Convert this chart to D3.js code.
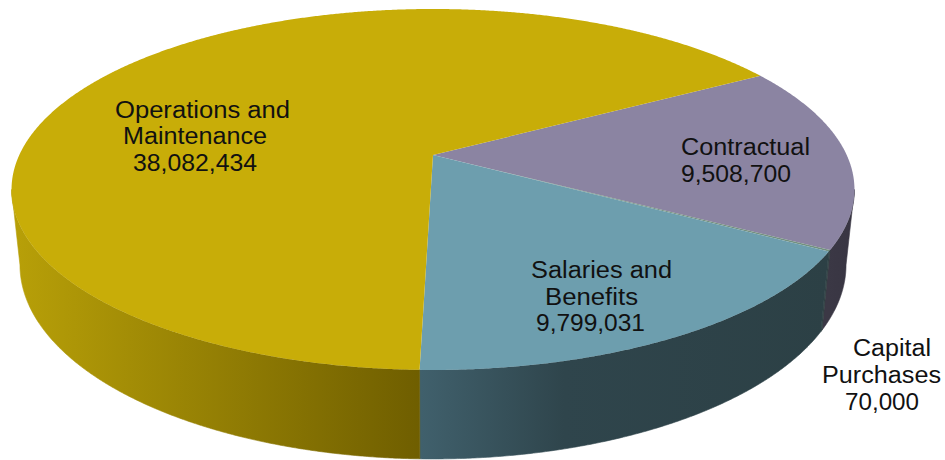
<!DOCTYPE html>
<html>
<head>
<meta charset="utf-8">
<script src="https://cdn.jsdelivr.net/npm/d3@7"></script>
<style>
  html, body { margin: 0; padding: 0; background: #fff; }
  svg { display: block; }
  text { font-family: "Liberation Sans", Arial, sans-serif; font-size: 23px; fill: #111; }
</style>
</head>
<body>
<svg id="chart" width="945" height="460"></svg>
<script>
// Budget categories, clockwise from the upper right of the disc
const categories = ["Contractual", "Capital Purchases", "Salaries and Benefits", "Operations and Maintenance"];
const amounts = [9508700, 70000, 9799031, 38082434];
const labelWords = [["Contractual"], ["Capital", "Purchases"], ["Salaries and", "Benefits"], ["Operations and", "Maintenance"]];

// Face and wall colours per category
const faceColors = ["#8b84a2", "#72907f", "#6d9eae", "#c8ad08"];
const wallStops = [
  [[0, "#3b3845"], [1, "#383542"]],
  [[0, "#2f3f40"], [1, "#2f3f40"]],
  [[0, "#40606c"], [0.35, "#2f454c"], [1, "#2c4045"]],
  [[0, "#b8a008"], [1, "#6f5e00"]]
];

// Tilted disc: a perspective mapping from the unit circle to the page
const apex = { x: 433, y: 155 };
const spanX = 413.7, spanY = 173.9, tilt = 0.191;
const project = (angle) => {
  const u = Math.sin(angle), v = Math.cos(angle), w = 1 + tilt * v;
  return [apex.x + spanX * u / w, apex.y - spanY * v / w];
};
// The lower rim sits under the upper one, drawn slightly toward the centre
const drop = ([x, y]) => [apex.x + (x - apex.x) * 0.98, y + 61.25 + 0.075 * y];

const pie = d3.pie().sort(null)
  .startAngle(60.1 * Math.PI / 180)
  .endAngle((60.1 + 360) * Math.PI / 180);
const slices = pie(amounts);

const svg = d3.select("#chart");
const defs = svg.append("defs");
const outline = d3.line().curve(d3.curveLinearClosed);

const arcPoints = (a0, a1) => {
  const n = Math.max(2, Math.ceil((a1 - a0) / 0.005));
  return d3.range(n + 1).map(i => project(a0 + (a1 - a0) * i / n));
};

// Horizontal extents of each wall gradient
const wallRange = [[828, 856], [826, 830], [421, 830], [12, 421]];
wallStops.forEach((stops, i) => {
  const grad = defs.append("linearGradient")
    .attr("id", "wall" + i)
    .attr("gradientUnits", "userSpaceOnUse")
    .attr("x1", wallRange[i][0]).attr("x2", wallRange[i][1])
    .attr("y1", 0).attr("y2", 0);
  stops.forEach(([o, c]) => grad.append("stop").attr("offset", o).attr("stop-color", c));
});

// Side walls first; the arc between the two silhouette tangents is extruded
const frontFrom = Math.acos(-tilt), frontTo = 2 * Math.PI - frontFrom;
svg.append("g").selectAll("path")
  .data(slices)
  .join("path")
  .attr("fill", (d, i) => `url(#wall${i})`)
  .attr("stroke", (d, i) => `url(#wall${i})`)
  .attr("stroke-width", 0.6)
  .attr("d", d => {
    const a0 = Math.max(d.startAngle, frontFrom), a1 = Math.min(d.endAngle, frontTo);
    if (a1 <= a0) return null;
    const rim = arcPoints(a0, a1);
    return outline(rim.concat(rim.slice().reverse().map(drop)));
  });

// Top faces
svg.append("g").selectAll("path")
  .data(slices)
  .join("path")
  .attr("fill", (d, i) => faceColors[i])
  .attr("d", d => outline([[apex.x, apex.y]].concat(arcPoints(d.startAngle, d.endAngle))));

// Label placement: left edge, baseline and set width of each line
const labelLayout = [
  [[681, 155, 129], [681, 182, 110]],
  [[853, 356, 78], [822, 383, 119], [845, 410, 74]],
  [[531, 278, 141], [545, 305, 93], [536, 331, 109]],
  [[115, 118, 175], [123, 144, 144], [133, 171, 124]]
];
const formatAmount = d3.format(",");
const labelLines = labelWords.flatMap((words, i) =>
  words.concat(formatAmount(amounts[i])).map((text, j) => ({ text, place: labelLayout[i][j] })));

svg.append("g").selectAll("text")
  .data(labelLines)
  .join("text")
  .attr("x", d => d.place[0])
  .attr("y", d => d.place[1])
  .attr("textLength", d => d.place[2])
  .attr("lengthAdjust", "spacingAndGlyphs")
  .text(d => d.text);
</script>
</body>
</html>
